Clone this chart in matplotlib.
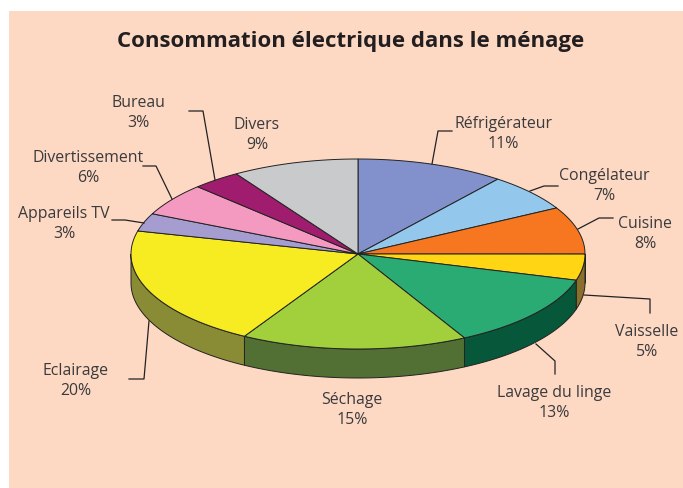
import numpy as np
import matplotlib
matplotlib.use('Agg')
import matplotlib.pyplot as plt

labels = ['Réfrigérateur', 'Congélateur', 'Cuisine', 'Vaisselle', 'Lavage du linge', 'Séchage',
          'Eclairage', 'Appareils TV', 'Divertissement', 'Bureau', 'Divers']
values = [11, 7, 8, 5, 13, 15, 20, 3, 6, 3, 9]
# parts (les tranches ne suivent pas tout a fait les % affiches)
shares = [10.56, 6.39, 8.06, 4.44, 12.78, 16.11, 20.56, 3.06, 5.56, 3.47, 9.01]
colors = ['#8291CB', '#93C7EC', '#F6771F', '#FFD514', '#2AAB74', '#A2CF3C',
          '#F6EC21', '#A59CD0', '#F49AC1', '#A01C6E', '#C8CACB']
sides = ['#5C6791', '#6A8FAA', '#B0561A', '#8A6F2A', '#07573A', '#527033',
         '#8A8C35', '#76708F', '#AD6E89', '#72144F', '#8F9091']
label_pos = [(503, 134), (604, 186), (645, 234), (647, 342), (554, 403), (352, 410),
             (76, 381), (64, 224), (88, 168), (138, 113), (257, 135)]
leaders = [[(432, 165), (438, 132), (452, 132)],
           [(530, 192), (544, 187), (558, 187)],
           [(578, 230), (599, 219), (613, 219)],
           [(584, 296), (650, 300), (650, 314)],
           [(536, 345), (555, 362), (555, 375)],
           [(149, 322), (144, 380), (129, 380)],
           [(144, 224), (125, 221), (112, 221)],
           [(172, 200), (156, 167), (143, 167)],
           [(215, 181), (203, 112), (189, 112)]]

cx, cy, rx, ry, depth = 358, 255, 227, 95, 29

fig = plt.figure(figsize=(6.83, 4.89), dpi=100)
ax = fig.add_axes([0, 0, 1, 1])
ax.set_xlim(0, 683)
ax.set_ylim(489, 0)
ax.axis('off')

ax.fill([9, 683, 683, 9], [12, 12, 489, 489], color='#FDD9C4', lw=0, zorder=0)
ax.text(351, 41, 'Consommation électrique dans le ménage', ha='center', va='center',
        fontsize=16, fontweight='bold', family='Open Sans', color='#231F20')


def ell(a):
    # a en degres, sens horaire depuis le haut
    r = np.radians(a)
    return cx + rx * np.sin(r), cy - ry * np.cos(r)


edges = np.cumsum([0] + shares) / sum(shares) * 360
for i in range(len(shares)):
    a0, a1 = edges[i], edges[i + 1]
    # face laterale (seulement la moitie avant)
    lo, hi = max(a0, 90), min(a1, 270)
    if lo < hi:
        t = np.linspace(lo, hi, 60)
        x, y = ell(t)
        ax.fill(np.r_[x, x[::-1]], np.r_[y, y[::-1] + depth], facecolor=sides[i],
                edgecolor='#222222', lw=0.7, zorder=2)
for i in range(len(shares)):
    t = np.linspace(edges[i], edges[i + 1], 60)
    x, y = ell(t)
    ax.fill(np.r_[cx, x], np.r_[cy, y], facecolor=colors[i], edgecolor='#222222',
            lw=0.7, zorder=3)

for pts in leaders:
    ax.plot([p[0] for p in pts], [p[1] for p in pts], color='#222222', lw=0.9, zorder=4)

for name, v, (px, py) in zip(labels, values, label_pos):
    ax.text(px, py, f'{name}\n{v}%', ha='center', va='center', fontsize=11.4,
            family='Open Sans', color='#3A3A3C', linespacing=1.38, zorder=5)

fig.savefig('out.png', dpi=100)
